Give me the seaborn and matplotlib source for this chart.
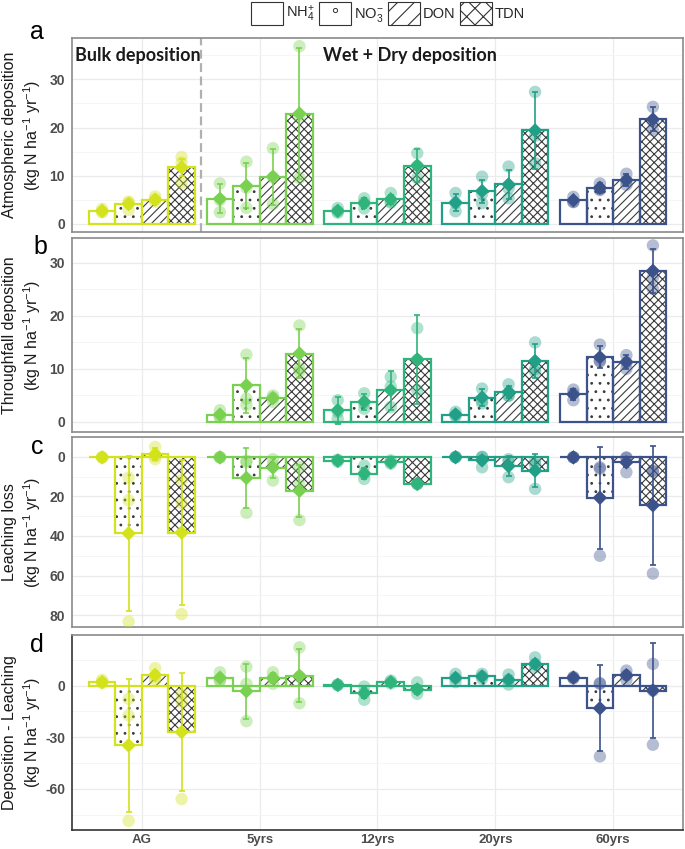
import matplotlib
matplotlib.use('Agg')
import matplotlib.pyplot as plt
import numpy as np
import pandas as pd
import seaborn as sns
from matplotlib.lines import Line2D
from matplotlib.patches import Patch

# ------------------------------------------------------------
# data
# ------------------------------------------------------------
groups = ['AG', '5yrs', '12yrs', '20yrs', '60yrs']
nutrients = ['NH4', 'NO3', 'DON', 'TDN']
legend_labels = ['NH$_4^{+}$', 'NO$_3^{-}$', 'DON', 'TDN']
group_colors = ['#d2e21b', '#7ad151', '#2fb47c', '#22a087', '#3b528b']
hatches = ['', '..', '////', 'xxxx']
nan = np.nan

# a: atmospheric deposition
atm_mean = [[2.7, 4.1, 5.0, 11.7], [5.2, 7.9, 9.8, 22.9], [2.7, 4.3, 5.1, 12.1],
            [4.4, 6.8, 8.2, 19.4], [4.9, 7.5, 9.1, 21.7]]
atm_sd = [[0.4, 0.8, 0.6, 1.8], [3.0, 4.7, 5.8, 13.6], [0.5, 1.0, 0.9, 3.5],
          [1.8, 2.4, 3.0, 8.0], [0.6, 1.0, 1.2, 2.5]]
atm_reps = [[[3.1, 2.4, 2.5], [4.6, 4.4, 2.9], [5.7, 4.6, 5.1], [13.9, 12.7, 8.5]],
            [[8.4, 4.9, 2.4], [12.9, 7.5, 3.3], [15.7, 9.6, 4.1], [36.9, 22.3, 9.5]],
            [[3.3, 2.3, 2.6], [5.3, 4.4, 3.2], [6.4, 4.6, 4.4], [14.7, 12.0, 9.5]],
            [[6.4, 4.3, 2.6], [9.8, 6.2, 4.3], [11.9, 7.4, 5.3], [27.4, 18.3, 12.6]],
            [[5.6, 4.6, 4.5], [8.4, 7.2, 7.0], [10.4, 8.9, 8.1], [24.3, 21.3, 19.5]]]

# b: throughfall deposition
thr_mean = [[nan, nan, nan, nan], [1.4, 6.9, 4.5, 12.9], [2.2, 3.8, 6.0, 11.8],
            [1.4, 4.6, 5.7, 11.5], [5.2, 12.2, 11.3, 28.5]]
thr_sd = [[nan, nan, nan, nan], [0.6, 5.2, 0.7, 4.7], [2.5, 1.5, 3.7, 8.4],
          [0.5, 1.6, 1.1, 3.2], [1.0, 2.1, 1.4, 4.2]]
thr_reps = [[[nan] * 3, [nan] * 3, [nan] * 3, [nan] * 3],
            [[2.2, 1.0, 0.9], [12.7, 4.4, 3.2], [5.0, 4.6, 3.8], [18.2, 10.1, 9.5]],
            [[4.1, 1.9, 0.6], [5.4, 3.5, 2.5], [8.5, 6.7, 2.8], [17.7, 11.7, 6.0]],
            [[1.9, 1.3, 1.1], [6.3, 4.0, 3.5], [7.1, 5.0, 4.9], [15.0, 10.0, 9.5]],
            [[6.1, 5.4, 4.1], [14.6, 11.6, 11.4], [12.6, 11.2, 10.0], [33.3, 27.2, 25.1]]]

# c: leaching loss
lea_mean = [[0.3, 38.7, -1.3, 38.3], [0.3, 10.7, 5.5, 17.2], [2.0, 8.5, 2.8, 13.7],
            [0.2, 1.8, 4.7, 7.0], [0.3, 20.7, 2.8, 24.5]]
lea_sd = [[0.2, 39.0, 3.0, 36.5], [0.3, 15.0, 5.0, 13.0], [0.6, 2.8, 0.8, 0.5],
          [0.2, 2.0, 5.0, 8.3], [0.2, 25.7, 2.5, 30.0]]
lea_reps = [[[0.3, 0.3, 0.2], [83.3, 22.0, 10.5], [-5.0, 1.2, -0.2], [79.5, 23.3, 11.7]],
            [[0.3, 0.2, 0.3], [28.3, 2.8, 2.0], [12.0, 4.0, 1.2], [32.0, 14.3, 5.3]],
            [[2.5, 1.8, 1.5], [11.2, 8.5, 4.5], [3.5, 2.8, 1.8], [13.8, 13.7, 13.5]],
            [[0.2, 0.1, 0.2], [5.3, 0.2, 0.0], [10.3, 2.5, 1.2], [16.2, 4.0, 2.3]],
            [[0.3, 0.3, 0.2], [50.0, 6.0, 5.3], [7.8, 0.6, 0.3], [59.0, 7.5, 7.0]]]

# d: deposition - leaching
bal_mean = [[2.0, -34.8, 6.2, -27.0], [4.6, -3.3, 4.4, 5.7], [0.4, -4.4, 2.0, -2.3],
            [4.4, 5.3, 3.3, 12.6], [4.6, -13.2, 6.0, -2.9]]
bal_sd = [[0.5, 38.5, 2.0, 34.5], [2.0, 16.0, 3.0, 15.5], [0.3, 3.0, 1.0, 2.5],
          [1.5, 1.0, 2.0, 2.5], [0.5, 25.0, 2.0, 27.5]]
bal_reps = [[[3.3, 2.0, 1.5], [-7.7, -17.4, -78.7], [10.1, 5.2, 3.3], [-4.8, -9.7, -66.0]],
            [[7.7, 3.2, 2.9], [11.0, 1.0, -20.7], [7.7, 4.5, 1.0], [22.2, 5.2, -10.3]],
            [[0.6, 0.4, 0.2], [-0.6, -4.4, -8.3], [2.9, 2.0, 1.2], [1.9, -2.3, -4.8]],
            [[6.8, 4.4, 2.0], [6.8, 5.3, 3.9], [6.4, 3.3, 0.6], [16.4, 12.6, 10.6]],
            [[5.0, 4.6, 4.1], [1.4, 1.0, -41.2], [8.7, 6.0, 3.3], [12.6, -2.9, -34.4]]]

# ------------------------------------------------------------
# style
# ------------------------------------------------------------
sns.set_style('white')
plt.rcParams['font.family'] = ['Liberation Sans', 'DejaVu Sans']
plt.rcParams['mathtext.default'] = 'regular'
plt.rcParams['axes.unicode_minus'] = False
plt.rcParams['hatch.linewidth'] = 0.8

palette = dict(zip(groups, group_colors))
width = 0.9
bar_w = width / len(nutrients)
offsets = dict(zip(nutrients, (np.arange(len(nutrients)) - 1.5) * bar_w))
gidx = {g: i for i, g in enumerate(groups)}


def make_frames(mean, sd, reps):
    bars = pd.DataFrame({'group': np.repeat(groups, 4), 'nutrient': np.tile(nutrients, 5),
                         'mean': np.ravel(mean), 'sd': np.ravel(sd)})
    reps = np.asarray(reps, dtype=float)
    pts = pd.DataFrame({'group': np.repeat(groups, 12),
                        'nutrient': np.tile(np.repeat(nutrients, 3), 5),
                        'value': reps.ravel()})
    for df in (bars, pts):
        df['xpos'] = df['group'].map(gidx) + df['nutrient'].map(offsets)
    return bars.dropna(), pts.dropna()


def draw_panel(ax, mean, sd, reps):
    bars, pts = make_frames(mean, sd, reps)
    # hatch layer
    sns.barplot(data=bars, x='group', y='mean', hue='nutrient', order=groups,
                hue_order=nutrients, width=width, errorbar=None, legend=False, ax=ax, zorder=2)
    n0 = len(ax.containers)
    for j, cont in enumerate(ax.containers):
        for bar in cont:
            bar.set_facecolor('white')
            bar.set_edgecolor('#3a3a3a')
            bar.set_linewidth(0)
            bar.set_hatch(hatches[j])
    # outline layer
    sns.barplot(data=bars, x='group', y='mean', hue='nutrient', order=groups,
                hue_order=nutrients, width=width, errorbar=None, legend=False, ax=ax,
                fill=False, zorder=3)
    for cont in ax.containers[n0:]:
        for bar in cont:
            gi = int(round(bar.get_x() + bar.get_width() / 2))
            bar.set_facecolor('none')
            bar.set_edgecolor(group_colors[gi])
            bar.set_linewidth(1.6)
    # error bars
    for g in groups:
        sub = bars[bars['group'] == g]
        if len(sub):
            ax.errorbar(sub['xpos'], sub['mean'], yerr=sub['sd'], fmt='none',
                        ecolor=palette[g], elinewidth=1.2, capsize=2, capthick=1.2, zorder=4)
    # replicate points and means
    sns.scatterplot(data=pts, x='xpos', y='value', hue='group', hue_order=groups,
                    palette=palette, s=80, alpha=0.38, linewidth=0, legend=False,
                    ax=ax, zorder=5)
    sns.scatterplot(data=bars, x='xpos', y='mean', hue='group', hue_order=groups,
                    palette=palette, marker='D', s=55, linewidth=0, legend=False,
                    ax=ax, zorder=6)


W, H = 685, 849
fig = plt.figure(figsize=(W / 100, H / 100), dpi=100)

boxes = [(38, 232), (238, 432), (437, 627), (635, 830)]
axes = []
for top, bot in boxes:
    axes.append(fig.add_axes([72 / W, 1 - bot / H, 611 / W, (bot - top) / H]))

panels = [
    (atm_mean, atm_sd, atm_reps, 'Atmospheric deposition', (-1.7, 38.6), [0, 10, 20, 30], [5, 15, 25, 35]),
    (thr_mean, thr_sd, thr_reps, 'Throughfall deposition', (-1.9, 34.7), [0, 10, 20, 30], [5, 15, 25]),
    (lea_mean, lea_sd, lea_reps, 'Leaching loss', (86, -9.5), [0, 20, 40, 60, 80], [-10, 10, 30, 50, 70]),
    (bal_mean, bal_sd, bal_reps, 'Deposition - Leaching', (-84, 29.4), [0, -30, -60], [15, -15, -45, -75]),
]

for k, (ax, (m, s, r, lab, ylim, yt, ymin)) in enumerate(zip(axes, panels)):
    draw_panel(ax, m, s, r)
    ax.set_xlim(-0.593, 4.593)
    ax.set_ylim(*ylim)
    ax.set_yticks(yt)
    ax.set_yticks(ymin, minor=True)
    ax.set_xticks(range(len(groups)))
    ax.set_xlabel('')
    ax.set_ylabel(lab + '\n(kg N ha$^{-1}$ yr$^{-1}$)', fontsize=11.5, color='#1a1a1a',
                  linespacing=1.25)
    ax.yaxis.set_label_coords(-0.048, 0.5)
    ax.set_axisbelow(True)
    ax.grid(True, which='major', color='#ebebeb', lw=0.9)
    ax.grid(True, which='minor', axis='y', color='#f4f4f4', lw=0.6)
    ax.tick_params(axis='y', which='major', length=3, width=0.8, color='#7f7f7f',
                   labelsize=10, labelcolor='#4d4d4d', pad=2)
    ax.tick_params(which='minor', length=0)
    if k == 3:
        ax.set_xticklabels(groups)
        ax.tick_params(axis='x', length=2.5, width=0.8, color='#7f7f7f', labelsize=9.5,
                       labelcolor='#4d4d4d', pad=0.5)
        for side in ['left', 'bottom']:
            ax.spines[side].set_color('#333333')
    else:
        ax.set_xticklabels([])
        ax.tick_params(axis='x', length=0)
    for lbl in ax.get_xticklabels() + ax.get_yticklabels():
        lbl.set_fontweight('bold')
    for side, sp in ax.spines.items():
        sp.set_linewidth(1.2)
        if not (k == 3 and side in ['left', 'bottom']):
            sp.set_color('#8a8a8a')

# panel a annotations
axa = axes[0]
axa.axvline(0.5, color='#b0b0b0', lw=1.6, ls=(0, (4, 2)), zorder=1)
axa.text(-0.57, 35, 'Bulk deposition', fontfamily='Lato', fontweight='bold',
         fontsize=13, ha='left', va='center', color='#1a1a1a')
axa.text(1.54, 35, 'Wet + Dry deposition', fontfamily='Lato', fontweight='bold',
         fontsize=13, ha='left', va='center', color='#1a1a1a')

# panel letters
for letter, (px, py) in zip('abcd', [(37, 32), (40, 247), (37, 447), (37, 645)]):
    fig.text(px / W, 1 - py / H, letter, fontsize=18, ha='center', va='center', color='black')

# legend
key_kw = dict(facecolor='white', edgecolor='#333333', lw=0.8)
handles = [Patch(**key_kw),
           (Patch(**key_kw), Line2D([], [], ls='none', marker='o', markersize=3,
                                    mfc='none', mec='#333333', mew=0.7)),
           Patch(hatch='//', **key_kw),
           Patch(hatch='xx', **key_kw)]
fig.legend(handles, legend_labels, loc='upper center', bbox_to_anchor=(0.566, 1.006),
           ncol=4, frameon=False, fontsize=10.5, handlelength=2.2, handleheight=2.0,
           handletextpad=0.2, columnspacing=0.3, borderaxespad=0.1)

fig.savefig('out.png', dpi=100)
